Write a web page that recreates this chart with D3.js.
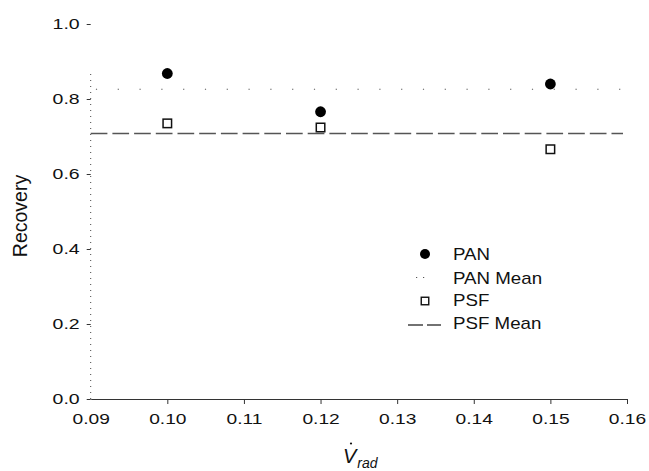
<!DOCTYPE html>
<html>
<head>
<meta charset="utf-8">
<script src="https://cdn.jsdelivr.net/npm/d3@7"></script>
<style>
  html, body { margin: 0; padding: 0; background: #fff; }
  svg { display: block; }
  text { font-family: "Liberation Sans", Arial, Helvetica, sans-serif; fill: #111; }
</style>
</head>
<body>
<svg id="chart" width="649" height="471"></svg>
<script>
// ---- data ----
const categories = [0.10, 0.12, 0.15];
const panValues  = [0.868, 0.766, 0.840];
const psfValues  = [0.735, 0.724, 0.666];
const panMean = 0.826;
const psfMean = 0.708;
const xTicks = [0.09, 0.10, 0.11, 0.12, 0.13, 0.14, 0.15, 0.16];
const yTicks = [0.0, 0.2, 0.4, 0.6, 0.8, 1.0];
const legendLabels = ["PAN", "PAN Mean", "PSF", "PSF Mean"];

// ---- layout ----
const svg = d3.select("#chart");
const x = d3.scaleLinear().domain([0.09, 0.16]).range([90.7, 627]);
const y = d3.scaleLinear().domain([0, 1]).range([399, 24]);

// x axis
const gx = svg.append("g").attr("transform", `translate(0,${y(0)})`)
  .call(d3.axisBottom(x).tickValues(xTicks).tickFormat(d3.format(".2f")).tickSize(5).tickSizeOuter(0));
gx.select(".domain").attr("stroke", "#333").attr("stroke-width", 1.2);
gx.selectAll(".tick line").attr("stroke", "#333").attr("stroke-width", 1);
gx.selectAll(".tick text")
  .attr("font-size", 15).attr("y", 14)
  .attr("transform", "scale(1.28,1)")
  .style("font-family", "'Liberation Sans', Arial, sans-serif").attr("fill", "#111");
gx.selectAll(".tick").filter(d => d === 0.09).select("line").remove();

// y axis
const gy = svg.append("g").attr("transform", `translate(${x(0.09)},0)`)
  .call(d3.axisLeft(y).tickValues(yTicks).tickFormat(d3.format(".1f")).tickSize(4).tickSizeOuter(0));
gy.select(".domain").remove();
gy.selectAll(".tick line").attr("stroke", "#333").attr("stroke-width", 1);
gy.selectAll(".tick text")
  .attr("font-size", 15).attr("x", -11 / 1.3)
  .attr("transform", "scale(1.3,1)")
  .style("font-family", "'Liberation Sans', Arial, sans-serif").attr("fill", "#111");

// dotted y spine
svg.append("line")
  .attr("x1", x(0.09)).attr("x2", x(0.09))
  .attr("y1", y(0)).attr("y2", y(0.88))
  .attr("stroke", "#444").attr("stroke-width", 1)
  .attr("stroke-dasharray", "1,5");

// mean lines
svg.append("line")
  .attr("x1", x(0.09)).attr("x2", x(0.16))
  .attr("y1", y(panMean)).attr("y2", y(panMean))
  .attr("stroke", "#555").attr("stroke-width", 1.2)
  .attr("stroke-dasharray", "1.2,20.6").attr("stroke-dashoffset", -27);

svg.append("line")
  .attr("x1", x(0.09)).attr("x2", x(0.16) - 4)
  .attr("y1", y(psfMean)).attr("y2", y(psfMean))
  .attr("stroke", "#555").attr("stroke-width", 1.6)
  .attr("stroke-dasharray", "16.7,5");

// PSF squares
const sq = 8.5;
svg.append("g").selectAll("rect").data(categories).join("rect")
  .attr("x", (d, i) => x(d) - sq / 2)
  .attr("y", (d, i) => y(psfValues[i]) - sq / 2)
  .attr("width", sq).attr("height", sq)
  .attr("fill", "#fff").attr("stroke", "#111").attr("stroke-width", 1.5);

// PAN circles
svg.append("g").selectAll("circle").data(categories).join("circle")
  .attr("cx", d => x(d))
  .attr("cy", (d, i) => y(panValues[i]))
  .attr("r", 5.4).attr("fill", "#000");

// axis titles
svg.append("text")
  .attr("transform", "translate(27,216) rotate(-90)")
  .attr("text-anchor", "middle").attr("font-size", 19.5)
  .text("Recovery");

const xt = svg.append("text").attr("x", 343).attr("y", 463)
  .attr("font-size", 20).attr("font-style", "italic");
xt.append("tspan").text("V");
xt.append("tspan").attr("font-size", 14).attr("dy", 5).attr("dx", 1).text("rad");
svg.append("circle").attr("cx", 351).attr("cy", 443.5).attr("r", 1.1).attr("fill", "#111");

// legend
const lx = 425, ly = [254, 277.5, 301, 325], tx = 453, tb = [260, 284, 306, 329];
const lg = svg.append("g");
lg.append("circle").attr("cx", lx).attr("cy", ly[0]).attr("r", 5).attr("fill", "#000");
lg.append("line").attr("x1", 416).attr("x2", 425).attr("y1", ly[1]).attr("y2", ly[1])
  .attr("stroke", "#555").attr("stroke-width", 1.2).attr("stroke-dasharray", "1.2,5.8");
lg.append("rect").attr("x", lx - 3.75).attr("y", ly[2] - 3.75).attr("width", 7.5).attr("height", 7.5)
  .attr("fill", "#fff").attr("stroke", "#111").attr("stroke-width", 1.4);
lg.append("line").attr("x1", 408).attr("x2", 441).attr("y1", ly[3]).attr("y2", ly[3])
  .attr("stroke", "#444").attr("stroke-width", 1.5).attr("stroke-dasharray", "15,4");
lg.selectAll("text").data(legendLabels).join("text")
  .attr("transform", (d, i) => `translate(${tx},${tb[i]}) scale(1.17,1)`)
  .attr("font-size", 16)
  .text(d => d);
</script>
</body>
</html>
